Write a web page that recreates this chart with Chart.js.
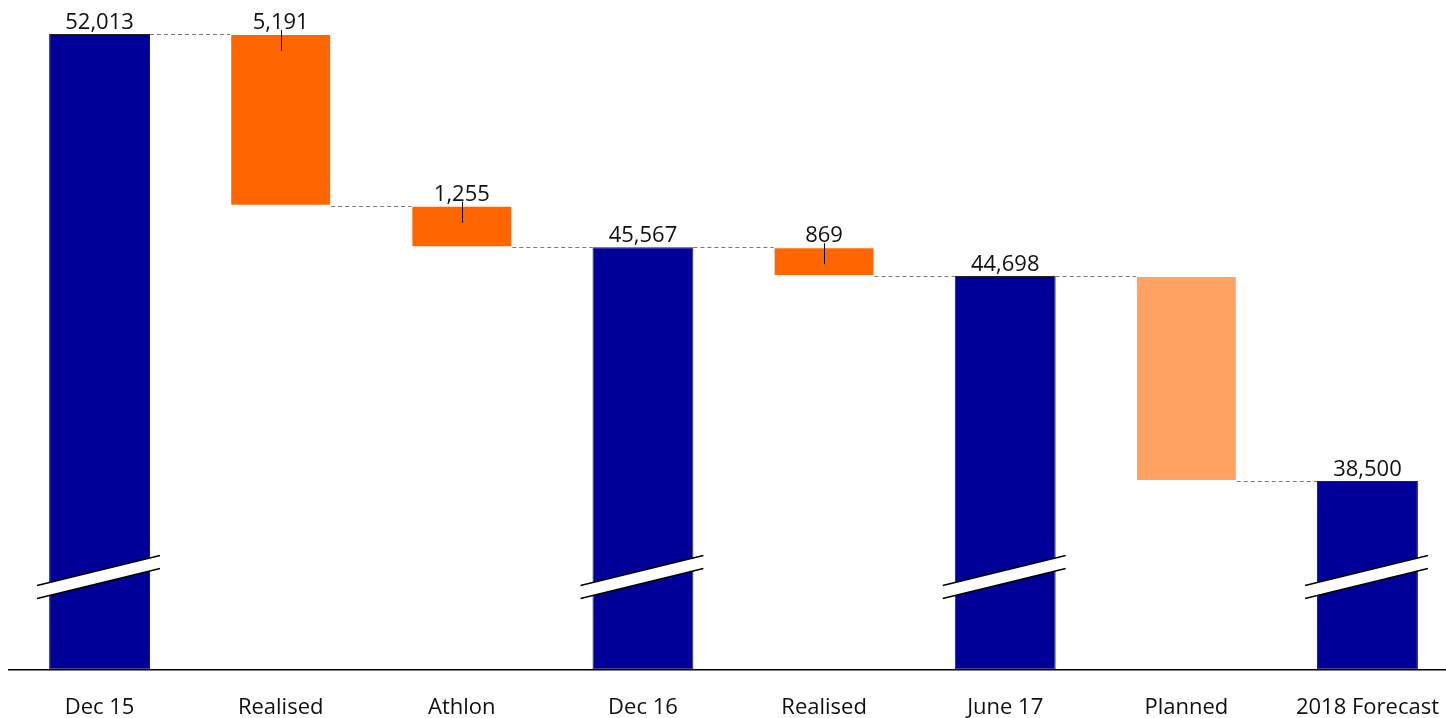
<!DOCTYPE html>
<html>
<head>
  <meta charset="utf-8" />
  <title>Headcount bridge</title>
  <script src="https://cdn.jsdelivr.net/npm/chart.js"></script>
  <style>
    html, body { margin: 0; padding: 0; background: #fff; overflow: hidden; }
    /* the plot runs a little past the right and bottom edges of the window */
    #wrap { width: 1464px; height: 746px; }
  </style>
</head>
<body>
  <div id="wrap"><canvas id="bridge"></canvas></div>
  <script>
    // bridge steps: totals are absolute levels, the rest are movements
    var categories = ['Dec 15', 'Realised', 'Athlon', 'Dec 16', 'Realised', 'June 17', 'Planned', '2018 Forecast'];
    var stepValues = [52013, -5191, -1255, 45567, -869, 44698, -6198, 38500];
    var isTotal    = [true, false, false, true, false, true, false, true];
    var isPlanned  = [false, false, false, false, false, false, true, false];
    var valueLabels = ['52,013', '5,191', '1,255', '45,567', '869', '44,698', '', '38,500'];

    // axis is cut: it starts well above zero
    var axisMin = 32800;
    var axisMax = 53040;
    var breakValue = 35600;

    var navy = '#000099';
    var orange = '#FF6600';
    var lightOrange = '#FFA262';

    // floating ranges for each bar
    var ranges = [];
    var level = 0;
    stepValues.forEach(function (v, i) {
      if (isTotal[i]) {
        level = v;
        ranges.push([axisMin, v]);
      } else {
        ranges.push([level + v, level]);
        level = level + v;
      }
    });

    var colors = categories.map(function (c, i) {
      if (isTotal[i]) return navy;
      return isPlanned[i] ? lightOrange : orange;
    });
    var borders = categories.map(function (c, i) { return isTotal[i] ? '#222' : 'rgba(255,255,255,0.35)'; });

    var bridgeDecor = {
      id: 'bridgeDecor',
      afterDatasetsDraw: function (chart) {
        var ctx = chart.ctx;
        var y = chart.scales.y;
        var bars = chart.getDatasetMeta(0).data;
        ctx.save();

        // dashed connectors between neighbouring bars
        ctx.strokeStyle = '#7a7a7a';
        ctx.lineWidth = 1;
        ctx.setLineDash([4, 3]);
        for (var i = 0; i < bars.length - 1; i++) {
          var lvl = isTotal[i] ? ranges[i][1] : ranges[i][0];
          var py = Math.round(y.getPixelForValue(lvl)) + 0.5;
          ctx.beginPath();
          ctx.moveTo(bars[i].x + bars[i].width / 2, py);
          ctx.lineTo(bars[i + 1].x - bars[i + 1].width / 2, py);
          ctx.stroke();
        }
        ctx.setLineDash([]);

        // break symbol across each total bar
        var by = y.getPixelForValue(breakValue);
        bars.forEach(function (b, i) {
          if (!isTotal[i]) return;
          var x0 = b.x - b.width / 2 - 12;
          var x1 = b.x + b.width / 2 + 10;
          var rise = 15;
          var gap = 6.5;
          ctx.fillStyle = '#fff';
          ctx.beginPath();
          ctx.moveTo(x0, by + rise - gap);
          ctx.lineTo(x1, by - rise - gap);
          ctx.lineTo(x1, by - rise + gap);
          ctx.lineTo(x0, by + rise + gap);
          ctx.closePath();
          ctx.fill();
          ctx.strokeStyle = '#000';
          ctx.lineWidth = 1.5;
          ctx.beginPath();
          ctx.moveTo(x0, by + rise - gap);
          ctx.lineTo(x1, by - rise - gap);
          ctx.moveTo(x0, by + rise + gap);
          ctx.lineTo(x1, by - rise + gap);
          ctx.stroke();
        });

        // value labels over each bar
        ctx.fillStyle = '#111';
        ctx.font = '22px "Open Sans", sans-serif';
        ctx.textAlign = 'center';
        ctx.textBaseline = 'alphabetic';
        bars.forEach(function (b, i) {
          if (!valueLabels[i]) return;
          var top = y.getPixelForValue(Math.max(ranges[i][0], ranges[i][1]));
          ctx.fillText(valueLabels[i], b.x, top - 5);
          if (!isTotal[i]) {
            ctx.strokeStyle = '#000';
            ctx.lineWidth = 1;
            ctx.beginPath();
            ctx.moveTo(Math.round(b.x) + 0.5, top - 4);
            ctx.lineTo(Math.round(b.x) + 0.5, top + 17);
            ctx.stroke();
          }
        });
        ctx.restore();
      }
    };

    new Chart(document.getElementById('bridge'), {
      type: 'bar',
      data: {
        labels: categories,
        datasets: [{
          data: ranges,
          backgroundColor: colors,
          borderColor: borders,
          borderWidth: 1,
          borderSkipped: false,
          barPercentage: 0.557,
          categoryPercentage: 1.0
        }]
      },
      options: {
        responsive: true,
        maintainAspectRatio: false,
        animation: false,
        layout: { padding: { left: 9, right: 0, top: 0, bottom: 0 } },
        plugins: {
          legend: { display: false },
          tooltip: { enabled: false }
        },
        scales: {
          x: {
            grid: { display: false, drawTicks: false },
            border: { display: true, color: '#000', width: 1.5 },
            ticks: {
              color: '#111',
              padding: 25,
              font: { family: '"Open Sans", sans-serif', size: 22 }
            }
          },
          y: {
            display: false,
            min: axisMin,
            max: axisMax
          }
        }
      },
      plugins: [bridgeDecor]
    });
  </script>
</body>
</html>
